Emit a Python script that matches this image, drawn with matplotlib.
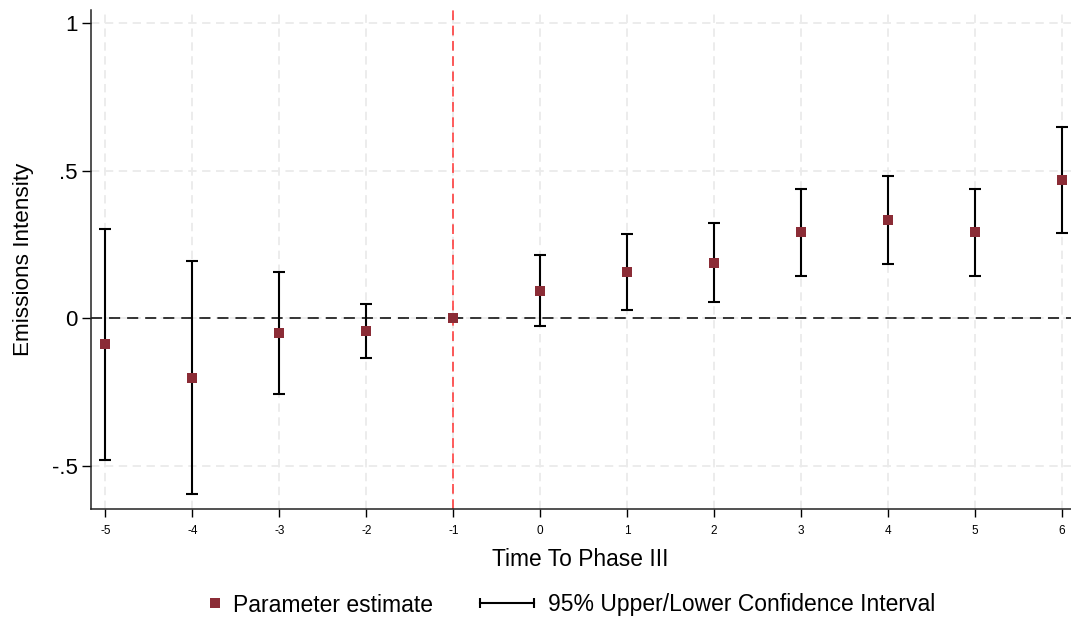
"""
Event-study plot: emissions intensity relative to Phase III.
"""

import numpy as np
import matplotlib as mpl
mpl.use("Agg")
from matplotlib import pyplot as plt
from matplotlib.lines import Line2D
from matplotlib.legend_handler import HandlerLine2D

# Data
periods = [-5, -4, -3, -2, -1, 0, 1, 2, 3, 4, 5, 6]
estimate = [-0.088, -0.200, -0.049, -0.041, 0.0, 0.093, 0.157, 0.189, 0.291, 0.333, 0.291, 0.467]
ci_upper = [0.304, 0.195, 0.158, 0.049, 0.0, 0.213, 0.285, 0.323, 0.436, 0.480, 0.438, 0.646]
ci_lower = [-0.480, -0.593, -0.257, -0.133, 0.0, -0.026, 0.027, 0.054, 0.143, 0.185, 0.142, 0.289]

y_ticks = [-0.5, 0, 0.5, 1]
y_tick_labels = ["-.5", "0", ".5", "1"]
event_period = -1

# Style
plt.rcParams["font.family"] = ["Liberation Sans", "DejaVu Sans"]
plt.rcParams["lines.scale_dashes"] = False
plt.rcParams["axes.unicode_minus"] = False

MARKER_COLOR = "#8b2c36"
GRID_COLOR = "#ebebeb"
FIG_W, FIG_H = 1071, 621

fig = plt.figure(figsize=(FIG_W / 100, FIG_H / 100), dpi=100)
ax = fig.add_axes([0.0847, 0.181, 0.915, 0.803])

x = np.array(periods)
est = np.array(estimate)
lo = np.array(ci_lower)
hi = np.array(ci_upper)

# Grid (light dashed)
ax.set_xticks(periods)
ax.set_yticks(y_ticks)
ax.set_yticklabels(y_tick_labels)
ax.grid(True, color=GRID_COLOR, linestyle=(0, (6, 4)), linewidth=1.3, zorder=0)
ax.set_axisbelow(True)

# Reference lines
ax.axhline(0, color="black", linewidth=1.1, linestyle=(0, (8, 5)), zorder=1)
ax.axvline(event_period, color="#ff3030", linewidth=1.1, linestyle=(0, (7, 4)), zorder=1)

# Confidence intervals (the reference period has none)
has_ci = hi - lo > 0
ax.errorbar(x[has_ci], est[has_ci],
            yerr=[est[has_ci] - lo[has_ci], hi[has_ci] - est[has_ci]],
            fmt="none", ecolor="black", elinewidth=1.5, capsize=4, capthick=1.5, zorder=2)

# Point estimates
ax.plot(x, est, linestyle="none", marker="s", markersize=7.5,
        color=MARKER_COLOR, markeredgewidth=0, zorder=3)

ax.set_xlim(-5.17, 6.1)
ax.set_ylim(-0.643, 1.043)

# Spines (Stata-like)
for side in ("top", "right"):
    ax.spines[side].set_visible(False)
for side in ("left", "bottom"):
    ax.spines[side].set_linewidth(1.1)
    ax.spines[side].set_color("#222222")

ax.tick_params(axis="y", direction="out", length=6.5, width=1, labelsize=16, pad=3)
ax.tick_params(axis="x", direction="out", length=6, width=1, labelsize=8.5, pad=6)

ax.set_xlabel("Time To Phase III", fontsize=16.4, labelpad=7.5)
ax.set_ylabel("Emissions Intensity", fontsize=16.2, labelpad=13)

# Legend below the plot: two single-entry legends so each handle gets its own width
LEGEND_FS = 16.5
legend_y = 1 - 605 / FIG_H

est_handle = Line2D([], [], linestyle="none", marker="s", markersize=7.5,
                    color=MARKER_COLOR, markeredgewidth=0)
ci_handle = Line2D([], [], color="black", linewidth=1.5, marker="|",
                   markersize=7, markeredgewidth=1.5)

fig.legend([est_handle], ["Parameter estimate"],
           loc="center left", bbox_to_anchor=(204 / FIG_W, legend_y),
           frameon=False, fontsize=LEGEND_FS, handlelength=1.0,
           handletextpad=0.25, borderpad=0, borderaxespad=0)
fig.legend([ci_handle], ["95% Upper/Lower Confidence Interval"],
           loc="center left", bbox_to_anchor=(480 / FIG_W, legend_y),
           frameon=False, fontsize=LEGEND_FS, handlelength=2.36,
           handletextpad=0.6, borderpad=0, borderaxespad=0,
           handler_map={ci_handle: HandlerLine2D(numpoints=2, marker_pad=0)})

fig.savefig("out.png", dpi=100)
